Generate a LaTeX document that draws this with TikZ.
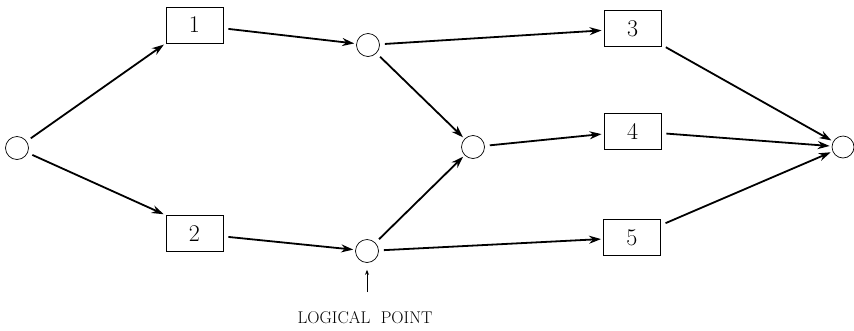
\documentclass[tikz,border=0pt]{standalone}
\usetikzlibrary{arrows.meta}
\begin{document}
\begin{tikzpicture}[x=1pt,y=-1pt,
  evt/.style={circle,draw,line width=0.7pt,minimum size=23pt,inner sep=0pt},
  act/.style={rectangle,draw,line width=0.9pt,minimum width=57pt,minimum height=36pt,inner sep=0pt,font=\fontsize{24}{26}\selectfont},
  flow/.style={line width=1.8pt,-{Stealth[length=12pt,width=8pt]},shorten <=5pt,shorten >=2pt}]
\useasboundingbox (0,0) rectangle (854,330);
\node[evt] (s) at (17,148) {};
\node[act] (b1) at (194.5,25) {1};
\node[act] (b2) at (194.5,233.5) {2};
\node[evt] (t) at (368,45) {};
\node[evt] (bot) at (367,251) {};
\node[evt] (m) at (473,147) {};
\node[act] (b3) at (632.5,28.5) {3};
\node[act] (b4) at (632.5,131) {4};
\node[act] (b5) at (632,237.5) {5};
\node[evt,minimum size=22pt] (e) at (843,147) {};
\node[font=\fontsize{17}{19}\selectfont,anchor=base] (lp) at (365,323) {LOGICAL\ \ POINT};
\coordinate (lpa) at (367,292);
\draw[flow] (s) -- (b1.south west);
\draw[flow] (s) -- (b2.north west);
\draw[flow] (b1) -- (t);
\draw[flow] (b2) -- (bot);
\draw[flow] (t) -- (b3);
\draw[flow] (t) -- (m);
\draw[flow] (bot) -- (m);
\draw[flow] (bot) -- (b5);
\draw[flow] (m) -- (b4);
\draw[flow] (b3) -- (e);
\draw[flow] (b4) -- (e);
\draw[flow] (b5) -- (e);
\draw[line width=1pt,-{Stealth[length=5pt,width=4pt]},shorten >=7pt] (lpa) -- (bot);
\end{tikzpicture}
\end{document}
